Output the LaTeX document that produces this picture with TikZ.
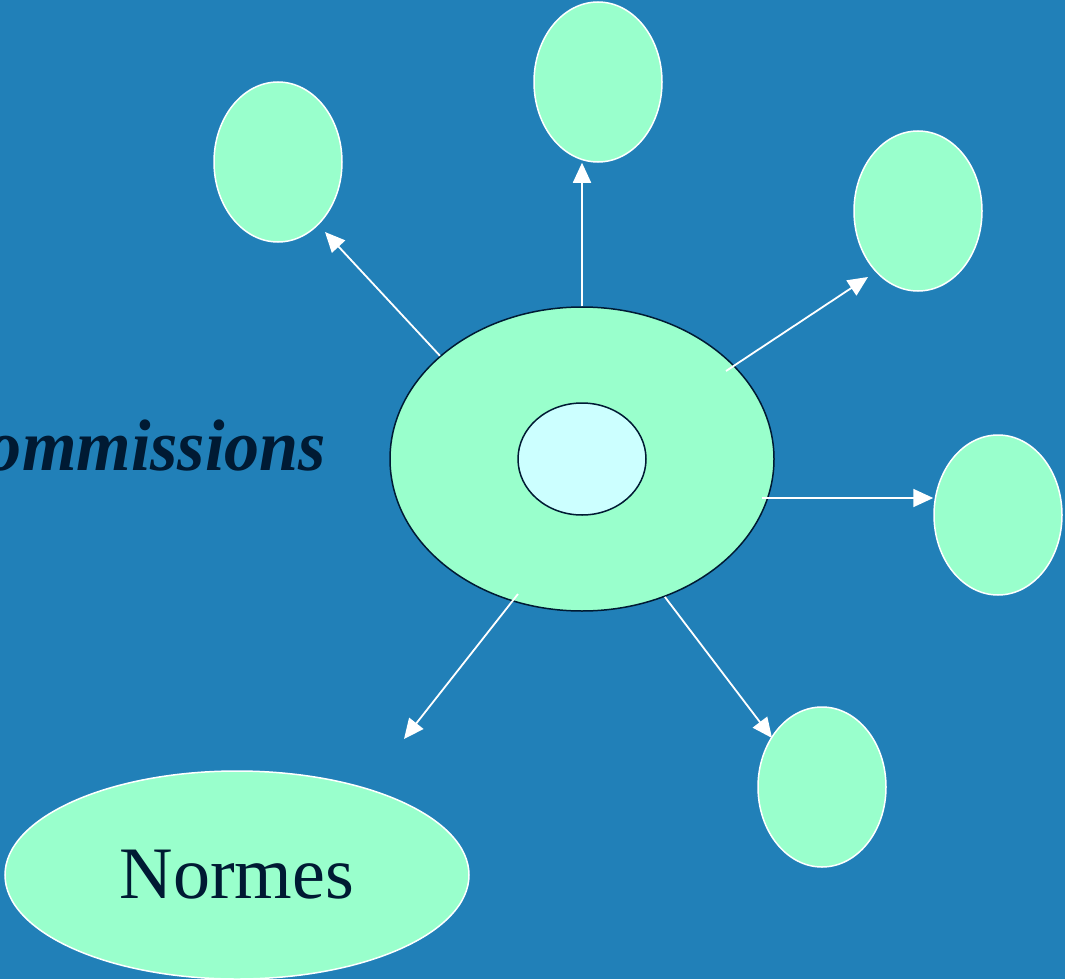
\documentclass[tikz,border=0pt]{standalone}
\usepackage{fontspec}
\setmainfont{Liberation Serif}
\usepackage{xcolor}
\usetikzlibrary{arrows.meta, shapes.geometric, positioning, calc}
\definecolor{slidebg}{HTML}{2180B8}
\definecolor{mint}{HTML}{99FFCC}
\definecolor{pale}{HTML}{CCFFFF}
\definecolor{ink}{HTML}{001A33}

\begin{document}
\begin{tikzpicture}[x=1pt, y=-1pt, >={Triangle[length=20pt, width=18pt]},
    bubble/.style={ellipse, fill=mint, draw=white, line width=1.5pt, inner sep=0pt, minimum width=128pt, minimum height=160pt},
    link/.style={white, line width=1.8pt, ->}]
      \useasboundingbox (0,0) rectangle (1065,979);

      % BACKGROUND
      \fill[slidebg] (0,0) rectangle (1065,979);
      \clip (0,0) rectangle (1065,979);

      % Centre
      \node[ellipse, fill=mint, draw=ink, line width=1.5pt, inner sep=0pt, minimum width=384pt, minimum height=304pt] (big) at (582,459) {};
      \node[ellipse, fill=pale, draw=ink, line width=1.5pt, inner sep=0pt, minimum width=128pt, minimum height=112pt] (core) at (582,459) {};

      % Satellites
      \node[bubble] (upleft) at (278,162) {};
      \node[bubble] (up) at (598,82) {};
      \node[bubble] (upright) at (918,211) {};
      \node[bubble] (right) at (998,515) {};
      \node[bubble] (downright) at (822,787) {};

      % Normes
      \node[bubble, minimum width=464pt, minimum height=208pt, font=\fontsize{74}{80}\selectfont, text=ink] (normes) at (237,875) {Normes};

      % Commissions
      \node[anchor=base east, inner sep=0pt, font=\fontsize{73}{80}\selectfont\bfseries\itshape, text=ink] (comm) at (326,470) {\scalebox{0.96}[1]{Commissions}};

      % ARROWS
      \coordinate (tailur) at ($(big.center)+(144,-88)$);
      \coordinate (tailr) at ($(big.center)+(180,39)$);
      \coordinate (taildl) at ($(big.center)+(-64,135)$);
      \coordinate (tipul) at (325,232);
      \coordinate (tipur) at (868,277);
      \coordinate (tipdr) at (772,738);
      \coordinate (tipdl) at (404,739);

      \draw[link] (big.144) -- (tipul);
      \draw[link] (big.north) -- (big.north |- up.south);
      \draw[link] (tailur) -- (tipur);
      \draw[link] (tailr) -- (tailr -| right.west);
      \draw[link] (big.-59) -- (tipdr);
      \draw[link] (taildl) -- (tipdl);
\end{tikzpicture}
\end{document}
